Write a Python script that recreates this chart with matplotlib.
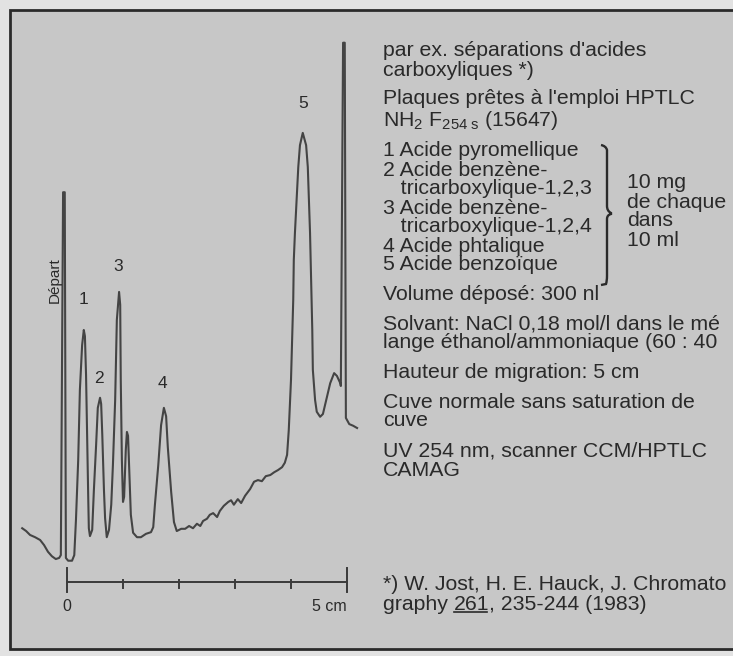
import numpy as np
import matplotlib.pyplot as plt
from matplotlib.path import Path
from matplotlib.patches import PathPatch, Rectangle

plt.rcParams['font.family'] = ['Liberation Sans', 'DejaVu Sans']
plt.rcParams['mathtext.fontset'] = 'custom'
plt.rcParams['mathtext.rm'] = 'Liberation Sans'
plt.rcParams['mathtext.it'] = 'Liberation Sans'
plt.rcParams['mathtext.default'] = 'regular'

# densitogram trace: migration distance (cm) and signal height (cm of chart)
position_cm = [-0.80, -0.73, -0.66, -0.57, -0.48, -0.41, -0.34, -0.27, -0.20, -0.14, -0.11,
               -0.07, -0.04, -0.02, 0.02, 0.09, 0.13, 0.16, 0.20, 0.23, 0.27, 0.30, 0.32,
               0.34, 0.36, 0.38, 0.39, 0.41, 0.45, 0.48, 0.52, 0.55, 0.59, 0.61, 0.63, 0.66,
               0.68, 0.71, 0.75, 0.79, 0.82, 0.86, 0.89, 0.93, 0.95, 0.96, 0.98, 1.00, 1.02,
               1.05, 1.07, 1.09, 1.11, 1.14, 1.18, 1.25, 1.32, 1.41, 1.50, 1.54, 1.57, 1.63,
               1.68, 1.73, 1.77, 1.80, 1.86, 1.91, 1.96, 2.04, 2.11, 2.18, 2.25, 2.32, 2.38,
               2.43, 2.50, 2.55, 2.61, 2.68, 2.73, 2.80, 2.88, 2.93, 2.98, 3.05, 3.11, 3.18,
               3.27, 3.34, 3.41, 3.48, 3.55, 3.63, 3.70, 3.77, 3.84, 3.89, 3.93, 3.96, 3.98,
               4.00, 4.02, 4.04, 4.05, 4.07, 4.11, 4.13, 4.16, 4.21, 4.27, 4.30, 4.34, 4.36,
               4.38, 4.39, 4.43, 4.46, 4.52, 4.57, 4.63, 4.70, 4.77, 4.82, 4.88, 4.89, 4.93,
               4.96, 4.98, 5.04, 5.11, 5.18]
signal = [0.96, 0.91, 0.84, 0.80, 0.75, 0.66, 0.54, 0.46, 0.41, 0.43, 0.48,
          6.96, 6.96, 0.43, 0.38, 0.38, 0.48, 1.11, 2.18, 3.43, 4.23, 4.50, 4.39,
          3.70, 2.54, 1.46, 0.96, 0.82, 0.93, 1.64, 2.45, 3.11, 3.29, 3.18, 2.63, 1.64,
          1.14, 0.80, 0.93, 1.38, 2.09, 3.25, 4.68, 5.18, 4.95, 3.61, 2.18, 1.43, 1.52,
          2.36, 2.68, 2.61, 2.04, 1.20, 0.88, 0.80, 0.80, 0.86, 0.89, 0.98, 1.38, 2.09,
          2.80, 3.11, 2.96, 2.41, 1.61, 1.07, 0.91, 0.95, 0.95, 1.00, 0.96, 1.04, 1.00,
          1.09, 1.13, 1.20, 1.23, 1.16, 1.27, 1.36, 1.43, 1.46, 1.38, 1.48, 1.41, 1.54,
          1.66, 1.79, 1.82, 1.80, 1.89, 1.91, 1.96, 2.00, 2.05, 2.13, 2.27, 2.71, 3.16,
          3.61, 4.32, 5.04, 5.75, 6.23, 7.00, 7.41, 7.80, 8.02, 7.80, 7.41, 6.23, 5.39,
          4.50, 3.79, 3.25, 3.04, 2.95, 3.00, 3.25, 3.55, 3.73, 3.68, 3.55, 3.50, 9.63,
          9.63, 2.93, 2.82, 2.79, 2.75]

peak_ids = ['1', '2', '3', '4', '5']
peak_label_pos = [(0.29, 5.04), (0.57, 3.64), (0.91, 5.63), (1.71, 3.55), (4.21, 8.55)]
scale_ticks_cm = [0, 1, 2, 3, 4, 5]

info_lines = [
    ("par ex. séparations d'acides", 48),
    ("carboxyliques *)", 68),
    ("Plaques prêtes à l'emploi HPTLC", 97),
    ("NH$_2$ F$_{254\\ s}$ (15647)", 117),
    ("1 Acide pyromellique", 149),
    ("2 Acide benzène-", 169),
    ("   tricarboxylique-1,2,3", 187),
    ("3 Acide benzène-", 207),
    ("   tricarboxylique-1,2,4", 225),
    ("4 Acide phtalique", 244),
    ("5 Acide benzoïque", 263),
    ("Volume déposé: 300 nl", 292),
    ("Solvant: NaCl 0,18 mol/l dans le mé", 322),
    ("lange éthanol/ammoniaque (60 : 40", 341),
    ("Hauteur de migration: 5 cm", 371),
    ("Cuve normale sans saturation de", 400),
    ("cuve", 419),
    ("UV 254 nm, scanner CCM/HPTLC", 449),
    ("CAMAG", 468),
    ("*) W. Jost, H. E. Hauck, J. Chromato", 583),
]
amount_lines = [("10 mg", 180), ("de chaque", 200), ("dans", 219), ("10 ml", 238)]

txt = '#2a2a2a'
fs = 15.3

fig = plt.figure(figsize=(7.33, 6.56), dpi=100)
fig.patch.set_facecolor('#e2e2e2')

# pixel overlay for the frame and the text block
ov = fig.add_axes([0, 0, 1, 1])
ov.set_xlim(0, 733)
ov.set_ylim(656, 0)
ov.axis('off')
ov.add_patch(Rectangle((10, 10), 800, 639, facecolor='#c7c7c7',
                       edgecolor='#2a2a2a', lw=2.0, clip_on=False))

for s, y in info_lines:
    ov.text(383, y, s, fontsize=fs, color=txt, va='center_baseline', ha='left')
for s, y in amount_lines:
    ov.text(627, y, s, fontsize=fs, color=txt, va='center_baseline', ha='left')

# last reference line with underlined volume number
fig.canvas.draw()
r = fig.canvas.get_renderer()
t1 = ov.text(383, 603, "graphy ", fontsize=fs, color=txt, va='center_baseline')
bb1 = t1.get_window_extent(r)
x2 = ov.transData.inverted().transform((bb1.x1, bb1.y0))[0]
t2 = ov.text(x2, 603, "261", fontsize=fs, color=txt, va='center_baseline')
bb2 = t2.get_window_extent(r)
x3 = ov.transData.inverted().transform((bb2.x1, bb2.y0))[0]
ov.text(x3, 603, ", 235-244 (1983)", fontsize=fs, color=txt, va='center_baseline')
ov.plot([x2, x3 - 2], [612, 612], color=txt, lw=1.2)

# brace
verts = [(601, 145), (606, 146), (607, 150), (607, 155),
         (607, 206), (607, 211), (611, 213), (611, 214),
         (607, 215), (607, 219), (607, 224),
         (607, 276), (607, 281), (606, 284), (601, 285)]
codes = [Path.MOVETO, Path.CURVE3, Path.CURVE3, Path.LINETO,
         Path.LINETO, Path.CURVE3, Path.CURVE3, Path.LINETO,
         Path.CURVE3, Path.CURVE3, Path.LINETO,
         Path.LINETO, Path.CURVE3, Path.CURVE3, Path.LINETO]
ov.add_patch(PathPatch(Path(verts, codes), fill=False, edgecolor=txt, lw=1.7))

# chromatogram in cm units (56 px per cm, origin at the start mark)
ax = fig.add_axes([0, 0, 1, 1])
ax.patch.set_alpha(0)
ax.axis('off')
ax.set_xlim(-67 / 56, 666 / 56)
ax.set_ylim(-74 / 56, 582 / 56)

ax.plot(position_cm, signal, color='#444444', lw=1.5, solid_joinstyle='round')

for pid, (px, py) in zip(peak_ids, peak_label_pos):
    ax.text(px, py, pid, fontsize=12.5, color=txt, ha='center', va='center')
ax.text(-0.21, 5.39, 'Départ', fontsize=11, color=txt, rotation=90,
        ha='center', va='center')

ax.plot([scale_ticks_cm[0], scale_ticks_cm[-1]], [0, 0], color='#3a3a3a', lw=1.4)
for t in scale_ticks_cm:
    if t in (scale_ticks_cm[0], scale_ticks_cm[-1]):
        ax.plot([t, t], [-0.18, 0.25], color='#3a3a3a', lw=1.4)
    else:
        ax.plot([t, t], [-0.10, 0.03], color='#3a3a3a', lw=1.4)
ax.text(scale_ticks_cm[0], -0.43, '0', fontsize=11.5, color=txt, ha='center', va='center')
ax.text(scale_ticks_cm[-1] - 0.32, -0.43, '5 cm', fontsize=11.5, color=txt, ha='center', va='center')

fig.savefig('out.png', dpi=100, facecolor=fig.get_facecolor())
